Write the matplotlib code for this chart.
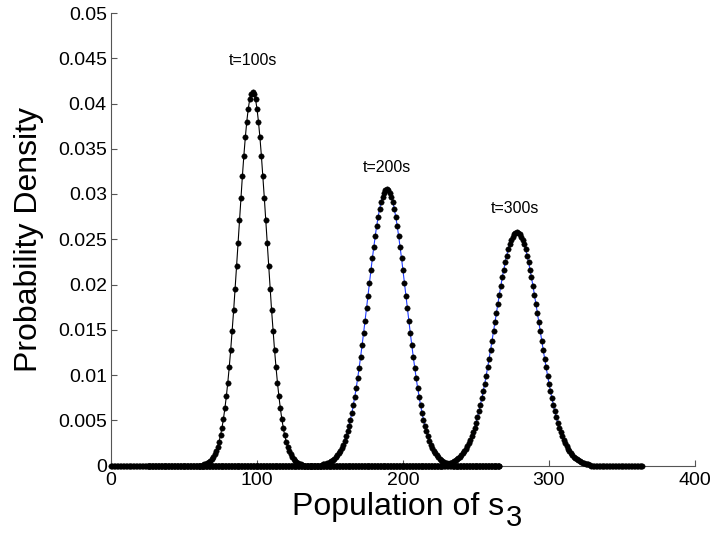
import numpy as np
import matplotlib
matplotlib.use('Agg')
import matplotlib.pyplot as plt

plt.rcParams['font.family'] = ['Liberation Sans', 'DejaVu Sans']

# density at each integer population, nonzero part only
p100 = [.00010, .00014, .00020, .00028, .00038, .00052, .00070, .00093, .00122, .00160,
        .00206, .00263, .00332, .00416, .00515, .00631, .00765, .00917, .01089, .01280,
        .01489, .01713, .01952, .02200, .02454, .02709, .02960, .03200, .03424, .03626,
        .03800, .03941, .04045, .04109, .04130, .04109, .04045, .03941, .03800, .03626,
        .03424, .03200, .02960, .02709, .02454, .02200, .01952, .01713, .01489, .01280,
        .01089, .00917, .00765, .00631, .00515, .00416, .00332, .00263, .00206, .00160,
        .00122, .00093, .00070, .00052, .00038, .00028, .00020, .00014, .00010]
p200 = [.00012, .00015, .00019, .00025, .00031, .00039, .00048, .00060, .00074, .00091,
        .00111, .00134, .00161, .00193, .00231, .00273, .00322, .00377, .00438, .00507,
        .00584, .00668, .00761, .00860, .00968, .01082, .01204, .01331, .01463, .01599,
        .01738, .01878, .02018, .02155, .02289, .02417, .02538, .02650, .02751, .02839,
        .02913, .02972, .03015, .03041, .03050, .03041, .03015, .02972, .02913, .02839,
        .02751, .02650, .02538, .02417, .02289, .02155, .02018, .01878, .01738, .01599,
        .01463, .01331, .01204, .01082, .00968, .00860, .00761, .00668, .00584, .00507,
        .00438, .00377, .00322, .00273, .00231, .00193, .00161, .00134, .00111, .00091,
        .00074, .00060, .00048, .00039, .00031, .00025, .00019, .00015, .00012]
p300 = [.00011, .00014, .00018, .00022, .00026, .00032, .00039, .00047, .00057, .00068,
        .00081, .00096, .00113, .00133, .00156, .00182, .00211, .00244, .00281, .00322,
        .00368, .00418, .00473, .00533, .00597, .00667, .00742, .00821, .00905, .00993,
        .01086, .01181, .01280, .01380, .01483, .01585, .01688, .01790, .01889, .01986,
        .02078, .02165, .02246, .02320, .02387, .02444, .02492, .02530, .02558, .02574,
        .02580, .02574, .02558, .02530, .02492, .02444, .02387, .02320, .02246, .02165,
        .02078, .01986, .01889, .01790, .01688, .01585, .01486, .01380, .01280, .01181,
        .01086, .00993, .00905, .00821, .00742, .00667, .00597, .00533, .00473, .00418,
        .00368, .00322, .00281, .00244, .00211, .00182, .00156, .00133, .00113, .00096,
        .00081, .00068, .00057, .00047, .00039, .00032, .00026, .00022, .00018, .00014,
        .00011]

# population range of each series (zero outside the peak) and where the peak starts
range100 = (0, 266)
range200 = (25, 266)
range300 = (60, 364)
start100, start200, start300 = 63, 145, 228

labels = ['t=100s', 't=200s', 't=300s']
label_x = [97, 189, 277]
label_y = [0.0448, 0.0329, 0.02845]


def series(rng, start, vals):
    x = np.arange(rng[0], rng[1] + 1)
    y = np.zeros(len(x))
    i = start - rng[0]
    y[i:i + len(vals)] = vals
    return x, y


W, H = 717, 535
fig = plt.figure(figsize=(W/100, H/100), dpi=100)
ax = fig.add_axes([111/W, 1 - 465.5/H, 584/W, 452.5/H])

x1, y1 = series(range100, start100, p100)
x2, y2 = series(range200, start200, p200)
x3, y3 = series(range300, start300, p300)

style = dict(lw=0.8, marker='o', ms=3.9, mfc='k', mec='k', mew=0.3, clip_on=False)
ax.plot(x1, y1, '-', color='k', zorder=3, **style)
ax.plot(x2, y2, '-', color='#1f3cff', zorder=3, **style)
ax.plot(x3, y3, '-', color='#1f3cff', zorder=3, **style)

for lab, lx, ly in zip(labels, label_x, label_y):
    ax.text(lx, ly, lab, ha='center', va='center', fontsize=11.5)

ax.set_xlim(0, 400)
ax.set_ylim(0, 0.05)
ax.set_xticks([0, 100, 200, 300, 400])
ax.set_yticks(np.arange(0, 0.0501, 0.005))
ax.set_yticklabels(['0', '0.005', '0.01', '0.015', '0.02', '0.025', '0.03', '0.035',
                    '0.04', '0.045', '0.05'])
ax.spines['top'].set_visible(False)
ax.spines['right'].set_visible(False)
for s in ['left', 'bottom']:
    ax.spines[s].set_color('#555555')
    ax.spines[s].set_linewidth(0.8)
ax.tick_params(axis='both', direction='in', length=4, width=0.8, color='#555555',
               labelsize=14)
ax.tick_params(axis='x', pad=5)
ax.tick_params(axis='y', pad=3)

ax.set_ylabel('Probability Density', fontsize=23, labelpad=10)

# x label with a lowered subscript, as in the original
t = fig.text(292/W, 1 - 515/H, 'Population of s', fontsize=23, va='baseline', ha='left')
fig.canvas.draw()
bb = t.get_window_extent()
fig.text((bb.x1 + 2)/W, 1 - 526/H, '3', fontsize=21, va='baseline', ha='left')

fig.savefig('out.png', dpi=100)
